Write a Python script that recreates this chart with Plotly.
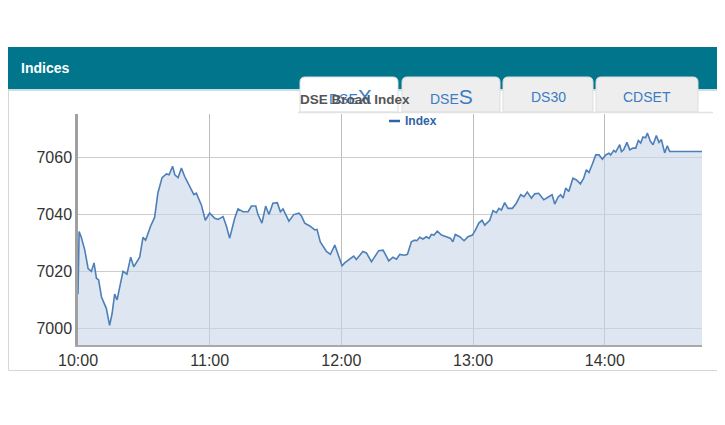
import plotly.graph_objects as go

# ---------------- data ----------------
times = [
    "10:00:00", "10:00:30", "10:01:30", "10:03:06", "10:04:36", "10:06:06", "10:07:18", "10:08:24",
    "10:09:24", "10:10:42", "10:12:54", "10:14:24", "10:15:30", "10:16:42", "10:17:48", "10:19:00",
    "10:20:30", "10:22:18", "10:24:00", "10:25:24", "10:28:06", "10:29:36", "10:30:48", "10:33:06",
    "10:34:54", "10:36:24", "10:38:18", "10:40:18", "10:41:30", "10:43:06", "10:44:06", "10:45:36",
    "10:47:06", "10:48:36", "10:50:54", "10:52:48", "10:53:54", "10:56:12", "10:58:00", "11:00:00",
    "11:02:18", "11:03:48", "11:06:06", "11:07:36", "11:09:06", "11:11:24", "11:12:54", "11:15:12",
    "11:17:30", "11:19:00", "11:21:00", "11:22:00", "11:23:48", "11:25:30", "11:27:00", "11:28:48",
    "11:30:48", "11:32:12", "11:33:24", "11:36:06", "11:38:18", "11:40:42", "11:41:48", "11:43:18",
    "11:45:36", "11:47:54", "11:48:54", "11:50:24", "11:53:12", "11:55:00", "11:57:00", "12:00:18",
    "12:01:30", "12:03:00", "12:04:36", "12:05:36", "12:06:48", "12:08:18", "12:09:48", "12:11:24",
    "12:13:42", "12:14:42", "12:17:00", "12:19:00", "12:21:36", "12:23:30", "12:25:06", "12:26:36",
    "12:28:48", "12:30:06", "12:31:54", "12:33:24", "12:34:24", "12:35:42", "12:37:12", "12:38:42",
    "12:39:54", "12:41:00", "12:42:12", "12:43:42", "12:45:36", "12:47:48", "12:49:48", "12:50:48",
    "12:51:54", "12:53:54", "12:55:54", "12:57:42", "12:59:42", "13:01:06", "13:02:36", "13:04:06",
    "13:05:18", "13:07:36", "13:09:06", "13:10:36", "13:11:48", "13:12:54", "13:14:24", "13:15:54",
    "13:17:54", "13:19:42", "13:21:42", "13:23:12", "13:24:42", "13:26:36", "13:28:06", "13:29:54",
    "13:32:12", "13:34:06", "13:36:00", "13:37:12", "13:38:42", "13:39:54", "13:41:00", "13:42:12",
    "13:43:36", "13:45:30", "13:47:06", "13:48:54", "13:50:24", "13:51:36", "13:52:48", "13:54:24",
    "13:55:54", "13:57:24", "13:58:54", "14:00:24", "14:01:54", "14:02:42", "14:04:06", "14:05:00",
    "14:06:48", "14:07:36", "14:08:36", "14:10:06", "14:11:24", "14:12:54", "14:14:06", "14:15:18",
    "14:16:24", "14:17:24", "14:18:36", "14:19:24", "14:20:48", "14:22:00", "14:23:30", "14:24:42",
    "14:25:48", "14:27:18", "14:28:30", "14:29:36", "14:44:18",
]
index_values = [
    7012.0, 7034.0, 7032.0, 7027.5, 7021.0, 7020.0, 7023.0, 7017.6,
    7017.0, 7011.0, 7007.0, 7001.0, 7005.0, 7012.0, 7010.0, 7014.5,
    7020.0, 7019.0, 7025.0, 7021.6, 7025.0, 7032.0, 7031.0, 7036.0,
    7039.0, 7047.6, 7053.0, 7054.3, 7054.0, 7057.0, 7054.0, 7053.0,
    7056.4, 7053.4, 7050.0, 7047.0, 7047.5, 7043.4, 7038.0, 7040.5,
    7038.7, 7038.3, 7039.3, 7036.0, 7031.7, 7038.7, 7042.0, 7041.0,
    7041.0, 7043.0, 7043.0, 7040.0, 7037.0, 7043.0, 7040.0, 7044.0,
    7044.2, 7041.0, 7042.0, 7037.7, 7040.0, 7040.5, 7039.5, 7037.0,
    7036.0, 7034.6, 7034.8, 7030.4, 7027.0, 7026.0, 7029.3, 7022.0,
    7023.0, 7024.0, 7025.0, 7025.4, 7024.2, 7025.7, 7027.0, 7026.5,
    7023.4, 7024.6, 7027.3, 7027.5, 7023.7, 7025.0, 7024.3, 7026.0,
    7025.7, 7026.0, 7030.4, 7031.0, 7030.8, 7032.0, 7031.4, 7032.2,
    7031.6, 7033.0, 7032.8, 7034.2, 7032.8, 7032.2, 7031.6, 7030.4,
    7033.0, 7032.2, 7030.8, 7032.2, 7032.8, 7034.6, 7037.0, 7038.0,
    7036.3, 7038.0, 7041.4, 7040.7, 7042.2, 7041.6, 7044.2, 7042.2,
    7042.2, 7044.0, 7047.0, 7046.3, 7047.9, 7045.8, 7047.3, 7047.5,
    7045.2, 7046.1, 7047.0, 7043.7, 7046.1, 7047.0, 7045.8, 7049.3,
    7048.1, 7052.8, 7052.2, 7050.8, 7052.8, 7055.8, 7054.8, 7057.9,
    7061.0, 7061.0, 7059.5, 7061.0, 7061.6, 7061.0, 7062.6, 7062.0,
    7064.6, 7062.2, 7062.8, 7065.4, 7062.8, 7063.4, 7063.4, 7066.1,
    7065.2, 7067.3, 7067.0, 7068.7, 7065.8, 7064.6, 7067.8, 7065.4,
    7066.4, 7061.7, 7064.2, 7062.2, 7062.2,
]
x_tick_labels = ["10:00", "11:00", "12:00", "13:00", "14:00"]
y_tick_values = [7000, 7020, 7040, 7060]
tab_labels = ["DSE<span style='font-size:21px'>X</span>",
              "DSE<span style='font-size:21px'>S</span>",
              "DS30", "CDSET"]
panel_title = "Indices"
chart_title = "DSE Broad Index"
series_name = "Index"

DAY = "2024-01-01 "
xs = [DAY + t for t in times]

# ---------------- layout geometry (page pixels; page body has an 8px margin) ----------------
OFF = 8
W, H = 725, 425
L, R, T, B = 78 - OFF, 702 - OFF, 114 - OFF, 345 - OFF
PW, PH = R - L, B - T


def px(x):
    return (x - OFF - L) / PW


def py(y):
    return 1 - (y - OFF - T) / PH


fig = go.Figure()
fig.add_trace(go.Scatter(
    x=xs, y=index_values, mode="lines", name=series_name,
    line=dict(color="#4d7fb8", width=1.6),
    fill="tozeroy", fillcolor="rgba(200,214,232,0.6)",
    hoverinfo="skip", showlegend=False,
))

shapes = []
# header band
shapes.append(dict(type="rect", xref="paper", yref="paper",
                   x0=px(8), x1=px(718), y0=py(89), y1=py(47),
                   fillcolor="#00758b", line=dict(width=0), layer="above"))
shapes.append(dict(type="line", xref="paper", yref="paper",
                   x0=px(8), x1=px(718), y0=py(90), y1=py(90),
                   line=dict(color="#a9d2dc", width=1), layer="above"))
# panel border
shapes.append(dict(type="rect", xref="paper", yref="paper",
                   x0=px(8.5), x1=px(717.5), y0=py(370.5), y1=py(90),
                   fillcolor="rgba(0,0,0,0)", line=dict(color="#d6d6d6", width=1),
                   layer="below"))
# tabs
tab_bounds = [(300, 398), (402, 500), (503, 593), (596, 698)]
tab_top, tab_bot, rad = 77, 112, 5
for i, (a, b) in enumerate(tab_bounds):
    path = (f"M {px(a)},{py(tab_bot)} L {px(a)},{py(tab_top + rad)} "
            f"Q {px(a)},{py(tab_top)} {px(a + rad)},{py(tab_top)} "
            f"L {px(b - rad)},{py(tab_top)} Q {px(b)},{py(tab_top)} {px(b)},{py(tab_top + rad)} "
            f"L {px(b)},{py(tab_bot)} Z")
    shapes.append(dict(type="path", xref="paper", yref="paper", path=path,
                       fillcolor="#ffffff" if i == 0 else "#eeeeee",
                       line=dict(color="#dddddd", width=1), layer="above"))
shapes.append(dict(type="line", xref="paper", yref="paper",
                   x0=px(298), x1=px(713), y0=py(112.5), y1=py(112.5),
                   line=dict(color="#e2e2e2", width=1.5), layer="above"))
# legend symbol
shapes.append(dict(type="line", xref="paper", yref="paper",
                   x0=px(389), x1=px(400), y0=py(121), y1=py(121),
                   line=dict(color="#2f64a8", width=2.5), layer="above"))

annotations = []
annotations.append(dict(xref="paper", yref="paper", x=px(19), y=py(68),
                        xanchor="left", yanchor="middle", showarrow=False,
                        text=f"<b>{panel_title}</b>",
                        font=dict(family="Liberation Sans, Arial", size=14, color="#ffffff")))
tab_centers = [350, 451, 548, 647]
for lab, cx in zip(tab_labels, tab_centers):
    annotations.append(dict(xref="paper", yref="paper", x=px(cx), y=py(96.5),
                            xanchor="center", yanchor="middle", showarrow=False,
                            text=lab,
                            font=dict(family="Liberation Sans, Arial", size=14, color="#3b7cc4")))
annotations.append(dict(xref="paper", yref="paper", x=px(355), y=py(99.5),
                        xanchor="center", yanchor="middle", showarrow=False,
                        text=f"<b>{chart_title}</b>",
                        font=dict(family="Liberation Sans, Arial", size=13.5, color="#555555")))
annotations.append(dict(xref="paper", yref="paper", x=px(403), y=py(121),
                        xanchor="left", yanchor="middle", showarrow=False,
                        text=f"<b>{series_name}</b>",
                        font=dict(family="Liberation Sans, Arial", size=12, color="#2f64a8")))

fig.update_layout(
    width=W, height=H, autosize=False,
    margin=dict(l=L, r=W - R, t=T, b=H - B, pad=0),
    paper_bgcolor="#ffffff", plot_bgcolor="rgba(0,0,0,0)",
    shapes=shapes, annotations=annotations, showlegend=False,
    font=dict(family="Liberation Sans, Arial", color="#333333"),
)
fig.update_xaxes(
    type="date", range=[DAY + "10:00:00", DAY + "14:44:18"],
    tickvals=[DAY + t + ":00" for t in x_tick_labels], ticktext=x_tick_labels,
    showgrid=True, gridcolor="#bdbdbd", gridwidth=1,
    showline=True, linecolor="#a8a8a8", linewidth=1.5,
    ticks="", tickfont=dict(size=16, color="#333333"), zeroline=False,
    fixedrange=True,
)
fig.update_yaxes(
    range=[6994.1, 7075.4], tickvals=y_tick_values,
    ticktext=[str(v) for v in y_tick_values],
    showgrid=True, gridcolor="#cccccc", gridwidth=1,
    showline=True, linecolor="#a0a0a0", linewidth=2.5,
    ticks="", tickfont=dict(size=16, color="#333333"), zeroline=False,
    fixedrange=True,
)

fig.write_html("out.html")
